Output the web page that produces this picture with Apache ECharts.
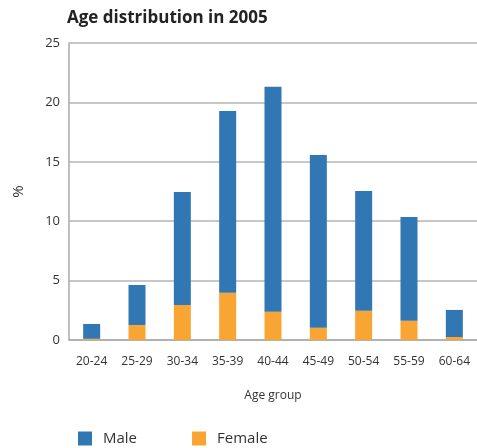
<!DOCTYPE html>
<html>
<head>
<meta charset="utf-8">
<script src="https://cdn.jsdelivr.net/npm/echarts@6/dist/echarts.min.js"></script>
<style>
  html, body { margin: 0; padding: 0; background: #fff; }
  #chart { width: 477px; height: 448px; }
</style>
</head>
<body>
<div id="chart"></div>
<script>
// Age groups along the x axis
const ageGroups = ['20-24', '25-29', '30-34', '35-39', '40-44', '45-49', '50-54', '55-59', '60-64'];
// Share of population (%) per age group
const maleShare = [1.25, 3.37, 9.51, 15.29, 18.94, 14.53, 10.07, 8.72, 2.28];
const femaleShare = [0.1, 1.26, 2.95, 3.98, 2.38, 1.04, 2.47, 1.63, 0.25];
const yTicks = { min: 0, max: 25, interval: 5 };

const font = '"Open Sans", sans-serif';
const chart = echarts.init(document.getElementById('chart'));
chart.setOption({
  animation: false,
  textStyle: { fontFamily: font },
  title: {
    text: 'Age distribution in 2005',
    left: 62, top: 5,
    textStyle: { fontFamily: font, fontWeight: 'bold', fontSize: 17, color: '#222' }
  },
  grid: { left: 69, right: -3, top: 43, bottom: 108 },
  legend: {
    left: 73, top: 426,
    itemWidth: 14, itemHeight: 14, itemGap: 55,
    icon: 'rect',
    textStyle: { fontFamily: font, fontSize: 15, color: '#333', padding: [0, 0, 0, 6] },
    data: ['Male', 'Female']
  },
  xAxis: {
    type: 'category',
    data: ageGroups,
    name: 'Age group',
    nameLocation: 'middle',
    nameGap: 50,
    nameTextStyle: { fontSize: 12, color: '#333' },
    axisLine: { lineStyle: { color: '#aaa', width: 1.5 } },
    axisTick: { inside: true, length: 5, lineStyle: { color: '#bbb' } },
    axisLabel: { fontSize: 12, color: '#333', margin: 16 }
  },
  yAxis: {
    type: 'value',
    min: yTicks.min, max: yTicks.max, interval: yTicks.interval,
    name: '%',
    nameLocation: 'middle',
    nameGap: 43,
    nameTextStyle: { fontSize: 15, color: '#333' },
    axisLine: { show: true, lineStyle: { color: '#aaa', width: 1.5 } },
    axisTick: { show: false },
    axisLabel: { fontSize: 13, color: '#333', margin: 9 },
    splitLine: { lineStyle: { color: '#b5b5b5', width: 1.5 } }
  },
  series: [
    {
      name: 'Female', type: 'bar', stack: 'total',
      data: femaleShare, barWidth: 17,
      itemStyle: { color: '#f9a533' }
    },
    {
      name: 'Male', type: 'bar', stack: 'total',
      data: maleShare, barWidth: 17,
      itemStyle: { color: '#3077b3' }
    }
  ]
});
</script>
</body>
</html>
